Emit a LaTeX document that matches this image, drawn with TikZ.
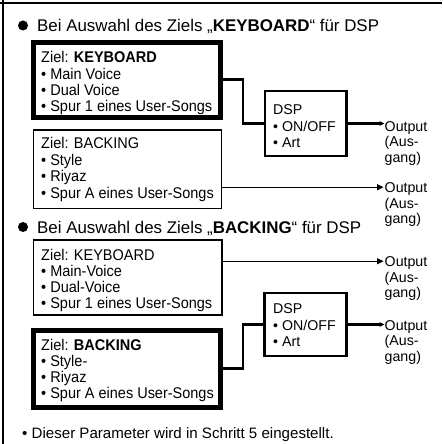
\documentclass[tikz,border=0pt]{standalone}
\usepackage{fontspec}
\setmainfont{Liberation Sans}
\newfontfamily\boxfont[FakeStretch=0.935]{Liberation Sans}
\usetikzlibrary{arrows.meta}
\begin{document}
\begin{tikzpicture}[x=1pt,y=-1pt,
  frame/.style={line width=2.5pt},
  thickbox/.style={draw, rectangle, line width=5pt, inner sep=0pt},
  thinbox/.style={draw, rectangle, line width=1.5pt, inner sep=0pt},
  dspbox/.style={draw, rectangle, line width=2.6pt, inner sep=0pt},
  boxtext/.style={anchor=base west, inner sep=0pt, font=\boxfont\fontsize{15.5}{16}\selectfont},
  dsptext/.style={anchor=base west, inner sep=0pt, font=\fontsize{14.2}{16}\selectfont},
  outtext/.style={anchor=base west, inner sep=0pt, font=\fontsize{14.2}{16}\selectfont},
  headtext/.style={anchor=base west, inner sep=0pt, font=\fontsize{16.9}{19}\selectfont},
  foottext/.style={anchor=base west, inner sep=0pt, font=\fontsize{15.1}{17}\selectfont},
  dot/.style={circle, fill=black, inner sep=0pt, minimum size=10pt},
  thickline/.style={line width=2.7pt},
  thinarrow/.style={line width=1.3pt, -{Triangle[length=6.5pt,width=6pt]}},
  thickarrow/.style={line width=2.5pt, -{Triangle[length=5pt,width=4.5pt]}}
]
\useasboundingbox (0,0) rectangle (442,444);
% frame
\draw[frame] (0,3) -- (442,3);
\draw[frame] (3,0) -- (3,444);

% heading 1
\node[dot] (h1dot) at (23,25.5) {};
\node[headtext] (h1) at (37,31.5) {Bei Auswahl des Ziels „\textbf{KEYBOARD}“ für DSP};

% box 1 (KEYBOARD, selected)
\node[thickbox, minimum width=187pt, minimum height=75pt] (k1) at (126.8,79.7) {};
\foreach \t [count=\i from 0] in {Ziel: \textbf{KEYBOARD}, • Main Voice, • Dual Voice, • Spur 1 eines User-Songs}
  \node[boxtext] (k1t\i) at (41,{63+\i*16}) {\t};

% box 2 (BACKING)
\node[thinbox, minimum width=188.4pt, minimum height=78.3pt] (b1) at (127.5,169.2) {};
\foreach \t [count=\i from 0] in {Ziel: BACKING, • Style, • Riyaz, • Spur A eines User-Songs}
  \node[boxtext] (b1t\i) at (41,{148.5+\i*16.5}) {\t};

% DSP 1
\node[dspbox, minimum width=81.7pt, minimum height=65pt] (d1) at (305.9,123.5) {};
\foreach \t [count=\i from 0] in {DSP, • ON/OFF, • Art}
  \node[dsptext] (d1t\i) at (273,{114.3+\i*16.8}) {\t};

% outputs 1,2
\foreach \t [count=\i from 0] in {Output, {(Aus-}, {gang)}}
  \node[outtext] (o1t\i) at (384.5,{131+\i*15.5}) {\t};
\foreach \t [count=\i from 0] in {Output, {(Aus-}, {gang)}}
  \node[outtext] (o2t\i) at (384.5,{192.7+\i*15.5}) {\t};
\coordinate (t2) at (383.5,187.2);

\draw[thickline] (k1.east) -- ++(20.2,0) |- (d1.west);
\draw[thickarrow] (d1.east) -- (d1.east -| o1t0.west);
\draw[thinarrow] (b1.east |- t2) -- (t2);

% heading 2
\node[dot] (h2dot) at (23,227) {};
\node[headtext] (h2) at (37,233) {Bei Auswahl des Ziels „\textbf{BACKING}“ für DSP};

% box 3 (KEYBOARD)
\node[thinbox, minimum width=188.7pt, minimum height=75pt] (k2) at (127.6,277.5) {};
\foreach \t [count=\i from 0] in {Ziel: KEYBOARD, • Main-Voice, • Dual-Voice, • Spur 1 eines User-Songs}
  \node[boxtext] (k2t\i) at (41,{260.5+\i*16}) {\t};

% box 4 (BACKING, selected)
\node[thickbox, minimum width=187pt, minimum height=77.3pt] (b2) at (126.8,368.8) {};
\foreach \t [count=\i from 0] in {Ziel: \textbf{BACKING}, • Style-, • Riyaz, • Spur A eines User-Songs}
  \node[boxtext] (b2t\i) at (41,{350+\i*16.3}) {\t};

% DSP 2
\node[dspbox, minimum width=82pt, minimum height=63pt] (d2) at (305.7,324.5) {};
\foreach \t [count=\i from 0] in {DSP, • ON/OFF, • Art}
  \node[dsptext] (d2t\i) at (273,{313.3+\i*16.7}) {\t};

% outputs 3,4
\foreach \t [count=\i from 0] in {Output, {(Aus-}, {gang)}}
  \node[outtext] (o3t\i) at (384.5,{266.7+\i*15.5}) {\t};
\foreach \t [count=\i from 0] in {Output, {(Aus-}, {gang)}}
  \node[outtext] (o4t\i) at (384.5,{330+\i*15.5}) {\t};
\coordinate (t3) at (383.5,261.2);

\draw[thinarrow] (k2.east |- t3) -- (t3);
\draw[thickline] (b2.east) -- ++(20.2,0) |- (d2.west);
\draw[thickarrow] (d2.east) -- (d2.east -| o4t0.west);

% footnote
\node[foottext] (fn) at (22,438.5) {• Dieser Parameter wird in Schritt 5 eingestellt.};
\end{tikzpicture}
\end{document}
